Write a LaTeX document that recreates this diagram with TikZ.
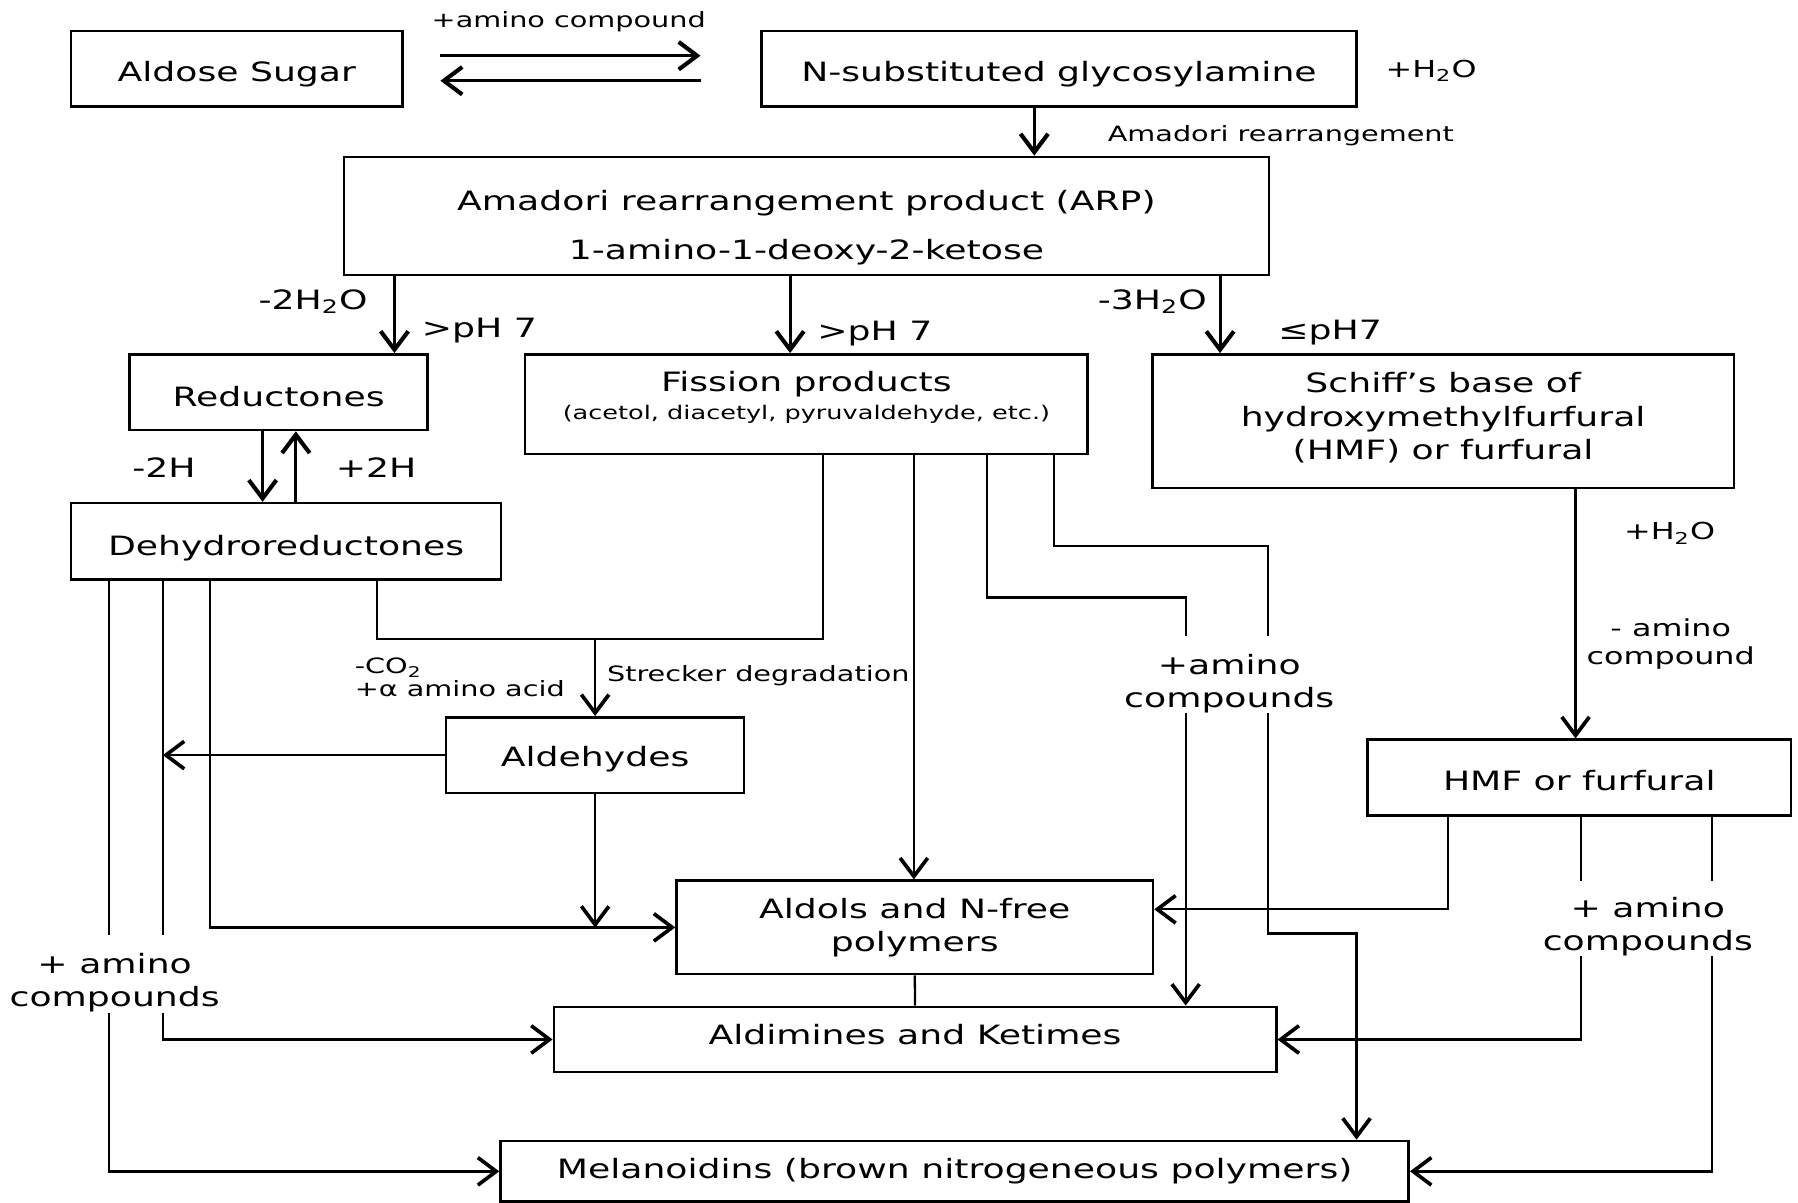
\documentclass[tikz,border=0pt]{standalone}
\usepackage{fontspec}
\setmainfont{DejaVu Sans}[FakeStretch=1.36]
\usetikzlibrary{arrows.meta}
\newcommand\mainsz{\fontsize{11.6pt}{14.5pt}\selectfont}
\newcommand\medsz{\fontsize{10.2pt}{12.2pt}\selectfont}
\newcommand\smallsz{\fontsize{9.2pt}{10pt}\selectfont}
\newcommand\tinysz{\fontsize{8.2pt}{10pt}\selectfont}
\tikzset{
  box/.style={draw, line width=1.1pt, inner sep=0pt, align=center, font=\mainsz},
  bline/.style={text height=#1, text depth=0pt},
  lbl/.style={inner sep=0pt, align=center, font=\mainsz},
  conn/.style={line width=1pt},
  arr/.style={conn, -{Straight Barb[length=8pt,width=12pt,line width=1.6pt]}},
  thickarr/.style={line width=1.3pt, -{Straight Barb[length=8pt,width=12pt,line width=1.8pt]}}
}
\begin{document}
\begin{tikzpicture}[x=0.5pt,y=-0.5pt]
\useasboundingbox (0,0) rectangle (1568,1049);
% boxes
\node[box, bline=11.1pt, minimum width=144.5pt, minimum height=33pt] (aldose) at (206.5,60) {Aldose Sugar};
\node[box, bline=11.1pt, minimum width=259.5pt, minimum height=33pt] (nsub) at (923.5,60) {N-substituted glycosylamine};
\node[box, text height=40.3pt, minimum width=403.25pt, minimum height=51.5pt] (arp) at (703.25,188.3) {Amadori rearrangement product (ARP)\\[7pt]1-amino-1-deoxy-2-ketose};
\node[box, bline=12.8pt, minimum width=130pt, minimum height=33pt] (red) at (243,342) {Reductones};
\node[box, text height=15.3pt, minimum width=245.25pt, minimum height=43.5pt] (fis) at (703.25,352.5) {Fission products\\[-2pt]{\tinysz (acetol, diacetyl, pyruvaldehyde, etc.)}};
\node[box, text height=34.8pt, minimum width=253.5pt, minimum height=58.25pt] (sch) at (1258.5,367.3) {Schiff’s base of\\hydroxymethylfurfural\\(HMF) or furfural};
\node[box, bline=12.1pt, minimum width=187.5pt, minimum height=33.25pt] (dehy) at (249.5,472) {Dehydroreductones};
\node[box, bline=10.1pt, minimum width=130pt, minimum height=33pt] (ald) at (519,658.5) {Aldehydes};
\node[box, bline=11.8pt, minimum width=184.75pt, minimum height=33pt] (hmf) at (1377.25,678) {HMF or furfural};
\node[box, minimum width=207.75pt, minimum height=40.75pt] (aldol) at (797.75,808.75) {Aldols and N-free\\polymers};
\node[box, bline=4.8pt, minimum width=315pt, minimum height=28.5pt] (imine) at (798,906.5) {Aldimines and Ketimes};
\node[box, minimum width=396pt, minimum height=26.5pt] (mel) at (832.5,1021.5) {Melanoidins (brown nitrogeneous polymers)};
% labels
\node[lbl, font=\smallsz] (lamino) at (496,19) {+amino compound};
\node[lbl, font=\medsz] (lh2oa) at (1248,62) {+H\textsubscript{2}O};
\node[lbl, font=\smallsz] (lamad) at (1117,118) {Amadori rearrangement};
\node[lbl] (l2h2o) at (273,263) {-2H\textsubscript{2}O};
\node[lbl] (lph1) at (418,288) {>pH 7};
\node[lbl] (lph2) at (763,291) {>pH 7};
\node[lbl] (l3h2o) at (1005,263) {-3H\textsubscript{2}O};
\node[lbl] (lph3) at (1160,290) {≤pH7};
\node[lbl] (lm2h) at (143,408) {-2H};
\node[lbl] (lp2h) at (328,408) {+2H};
\node[lbl, font=\smallsz, align=left, anchor=west] (lco2) at (309,591) {-CO\textsubscript{2}\\+α amino acid};
\node[lbl, font=\smallsz, anchor=west] (lstreck) at (529,589) {Strecker degradation};
\node[lbl] (lam1) at (100,857) {+ amino\\compounds};
\node[lbl] (lam2) at (1072,596) {+amino\\compounds};
\node[lbl, font=\medsz] (lh2ob) at (1456,465) {+H\textsubscript{2}O};
\node[lbl, font=\medsz] (lmam) at (1457,562) {- amino\\compound};
\node[lbl] (lam3) at (1437,808) {+ amino\\compounds};
% helper coordinates
\coordinate (c95) at (95,0);
\coordinate (c142) at (142,0);
\coordinate (c183) at (183,0);
\coordinate (c229) at (229,0);
\coordinate (c258) at (258,0);
\coordinate (c329) at (329,0);
\coordinate (c344) at (344,0);
\coordinate (c690) at (689,0);
\coordinate (c718) at (718,0);
\coordinate (c797) at (797,0);
\coordinate (c861) at (861,0);
\coordinate (c902) at (902,0);
\coordinate (c919) at (919,0);
\coordinate (c1034) at (1034,0);
\coordinate (c1064) at (1064,0);
\coordinate (c1106) at (1106,0);
\coordinate (c1183) at (1183,0);
\coordinate (c1263) at (1263,0);
\coordinate (c1374) at (1374,0);
\coordinate (c1379) at (1379,0);
\coordinate (c1493) at (1493,0);
\coordinate (jn) at (519,557);
\coordinate (h476) at (0,476);
\coordinate (h521) at (0,521);
\coordinate (h793) at (0,793);
\coordinate (h809) at (0,809);
\coordinate (h814) at (0,814);
\coordinate (g1a) at (0,815);
\coordinate (g1b) at (0,883);
\coordinate (g2a) at (0,555);
\coordinate (g2b) at (0,622);
\coordinate (g3a) at (0,768);
\coordinate (g3b) at (0,834);
% top equilibrium
\draw[thickarr, shorten <=16pt, shorten >=26pt] ([yshift=5.7pt]aldose.east) -- ([yshift=5.7pt]nsub.west);
\draw[thickarr, shorten <=26pt, shorten >=16pt] ([yshift=-5.2pt]nsub.west) -- ([yshift=-5.2pt]aldose.east);
\draw[thickarr] (nsub.south -| c902) -- (arp.north -| c902);
% from ARP
\draw[thickarr] (arp.south -| c344) -- (red.north -| c344);
\draw[thickarr] (arp.south -| c690) -- (fis.north -| c690);
\draw[thickarr] (arp.south -| c1064) -- (sch.north -| c1064);
% reductones <-> dehydroreductones
\draw[thickarr] (red.south -| c229) -- (dehy.north -| c229);
\draw[thickarr] (dehy.north -| c258) -- (red.south -| c258);
% Strecker
\draw[conn] (dehy.south -| c329) |- (jn) -| (fis.south -| c718);
\draw[arr] (jn) -- (ald.north);
\draw[arr] (ald.west) -- (ald.west -| c142);
\draw[arr] (ald.south) -- (ald.south |- h809);
% dehydroreductones branches
\draw[arr] (dehy.south -| c183) |- (aldol.west);
\draw[conn] (dehy.south -| c142) -- (c142 |- g1a);
\draw[arr] (c142 |- g1b) |- (imine.west);
\draw[conn] (dehy.south -| c95) -- (c95 |- g1a);
\draw[arr] (c95 |- g1b) |- (mel.west);
% fission branches
\draw[arr] (fis.south -| c797) -- (aldol.north -| c797);
\draw[conn] (fis.south -| c861) |- (c1034 |- h521) -- (c1034 |- g2a);
\draw[arr] (c1034 |- g2b) -- (imine.north -| c1034);
\draw[conn] (fis.south -| c919) |- (c1106 |- h476) -- (c1106 |- g2a);
\draw[arr] (c1106 |- g2b) -- (c1106 |- h814) -| (mel.north -| c1183);
% Schiff -> HMF
\draw[arr] (sch.south -| c1374) -- (hmf.north -| c1374);
% HMF branches
\draw[arr] (hmf.south -| c1263) |- (aldol.east |- h793);
\draw[conn] (hmf.south -| c1379) -- (c1379 |- g3a);
\draw[arr] (c1379 |- g3b) |- (imine.east);
\draw[conn] (hmf.south -| c1493) -- (c1493 |- g3a);
\draw[arr] (c1493 |- g3b) |- (mel.east);
% aldols - aldimines
\draw[conn] (aldol.south) -- (imine.north);
\end{tikzpicture}
\end{document}
